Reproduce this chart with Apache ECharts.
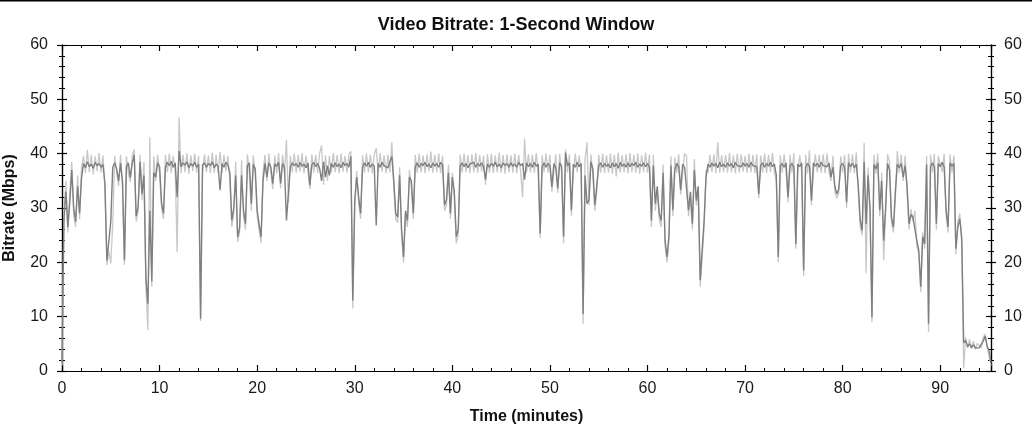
<!DOCTYPE html>
<html>
<head>
<meta charset="utf-8">
<script src="https://cdn.jsdelivr.net/npm/echarts@6/dist/echarts.min.js"></script>
<style>html,body{margin:0;padding:0;background:#fff;}#chart{width:1032px;height:436px;}</style>
</head>
<body>
<div id="chart"></div>
<script>
// Time step between samples (minutes)
const STEP = 0.2;
const xTicks = [0, 10, 20, 30, 40, 50, 60, 70, 80, 90];
const yTicks = [0, 10, 20, 30, 40, 50, 60];

// Main (dark) bitrate trace, Mbps, one value per STEP minutes starting at 0
const bitrate = [
1.5,28,33,26.5,31,37,30,27.5,34,29,
35.5,38.2,37.4,38.5,37.6,38.1,37.3,38.4,37.8,38.2,
37.5,38.0,34.5,20.3,20.6,27.5,37.5,38.3,37.2,35,
38.2,34.8,20.4,37.6,38.3,35.6,38.2,39.8,28.5,30.2,
38.5,32.6,36,16.9,12.4,29.5,16.5,36.5,35.7,38.3,
37.6,31,29,37.5,38.4,37.8,38.6,37.5,38.3,32,
40.5,37.6,38.3,37.9,38.5,37.4,38.2,37.7,38.4,37.5,
38.1,9.6,37.9,38.3,37.5,38.2,37.8,38.5,37.4,38.1,
37.6,33.3,38.2,37.5,38.4,37.9,36.5,27.7,30,36,
24.7,26.4,36,29.6,27.1,37.8,38.3,30.8,38,37.2,
29.6,27,24.7,35,38.2,35.7,38.3,37.6,34.5,38.1,
37.7,38.4,34.5,38.2,37.4,27.7,32.6,37.6,38.3,37.8,
38.2,37.5,38.4,37.7,38.1,37.4,38.3,34.2,37.9,38.4,
37.6,38.2,37.3,35,38.5,35.7,37.8,36,38.2,37.5,
38.3,37.6,38.1,37.4,38.4,37.8,38.2,37.5,39.5,13,
31.4,35.7,32,29,37.5,38.3,37.7,38.4,37.5,38.1,
37.7,26.8,38.2,37.5,38.4,37.8,38.1,37.4,38.5,39.5,
35,29,28.3,36,26,21,29.5,27.7,35.7,35,
29,37.6,38.3,37.5,38.2,37.8,38.4,37.6,38.1,37.4,
38.3,37.7,38.2,37.5,38.4,37.9,30.5,31.5,36.5,29,
35.7,33,24.7,26,37.8,38.3,37.6,38.2,37.4,38.1,
37.8,38.4,37.5,38.2,37.7,38.3,37.6,35.2,38.1,37.5,
38.2,37.7,38.4,37.6,38.1,37.4,38.3,37.8,38.2,37.5,
38.3,37.7,38.1,37.5,38.4,37.8,38.2,35.2,38.3,37.6,
38.2,37.5,38.4,37.7,38.1,25.3,37.6,38.3,37.5,38.2,
37.7,33.9,38.2,37.4,33.6,38.3,37.6,24.7,40.2,37.8,
38.3,29.6,38.1,37.5,38.4,37.6,38.2,10.5,36,30.8,
31.4,38.5,37.2,30.5,34,37.8,38.3,37.5,38.2,37.7,
38.1,37.4,38.3,37.6,38.2,37.3,38.4,37.7,38.1,37.5,
38.3,37.6,38.2,37.8,38.4,37.5,38.1,37.7,38.3,37.6,
38.2,37.5,27.7,37.8,30.8,34,29,27.7,36.5,24,
21,25,37.8,29.6,37,38.2,37.6,33.3,38.1,37.5,
37.8,29.6,33,27.1,37,31.4,34,16.7,22.2,27.7,
35.7,38.1,37.5,38.3,37.7,38.2,37.4,38.4,37.6,38.1,
37.5,38.3,37.7,38.2,37.4,38.4,37.8,38.1,37.6,38.3,
37.7,38.2,37.5,38.4,37.8,38.1,37.6,32.6,37.8,38.3,
37.5,38.2,37.7,38.4,37.6,38.1,36,21,37.8,38.2,
37.5,38.3,32,37.7,38.2,37.4,23.4,38.1,37.6,38.3,
18.5,37.5,38.2,37.6,31.4,38.3,37.7,38.2,37.5,38.4,
37.8,38.1,37.6,38.3,35.7,37.5,34,32.6,33.5,37.8,
38.2,37.5,31,38.3,37.6,38.2,37.4,38.1,34,27.7,
25.9,38.5,27,36,30,9.9,38,37.2,38.3,29.6,
35,24,30,38.2,37,28.3,26.5,33,38.1,37.4,
38.2,35.7,37.8,34,27.1,28.8,28.3,28.6,24,22.2,
15.5,24.7,23.4,38,8.7,37.6,38.3,37.5,27.1,38.2,
37.6,38.4,37.5,29.6,26.5,38.3,37.7,38.2,22.5,26.5,
28,24.5,5.2,5.6,4.5,5.0,4.3,4.8,4.2,4.4,
4.3,4.5,5.5,6.4,4.6,3.8,1.5
];

// Raw (light) trace, same sampling
const bitrateRaw = [
1,29,35,25.5,33,38.5,28.5,26.5,36,28,
37.5,39.6,36.4,40.7,36.6,39.8,36.2,39.5,36.8,40.1,
36.5,39.7,33.5,19.5,22,19.8,27,39.6,36.5,34,
39.8,34,19.5,39.5,36.4,34.8,39.7,40.8,27.5,29.5,
39.8,31.5,38.5,15.5,7.5,43,15.5,39.5,35,39.8,
36.5,30,28,39.8,36.6,40,36.5,39.6,36.8,21.9,
46.7,36.4,39.8,36.6,40.1,36.3,39.7,36.8,40,36.5,
39.6,9.2,36.5,39.9,36.6,39.7,36.4,40.2,36.5,39.8,
36.5,40.3,36.4,39.8,36.8,39.6,35,26.5,29,38.5,
23.8,25.5,38.8,28.5,26,39.9,36.5,29.5,39.7,36.5,
28.5,26,23.5,36.5,39.8,35,40,36.5,33.5,39.7,
36.4,40.1,33.6,39.8,36.5,42.5,31,39.6,36.6,40,
36.5,39.8,36.7,40.1,36.4,39.6,36.8,33.5,39.9,36.5,
39.8,36.5,40,41.5,34.3,39.7,35,39.6,36.5,40.1,
36.6,39.8,36.4,40,36.7,39.6,36.5,39.9,40.4,11.5,
30.5,36.8,31,28,39.7,36.5,40,36.6,39.8,36.4,
39.9,41,36.5,40.1,36.7,39.7,36.4,39.8,36.6,42.1,
34,28,27.3,37.5,25,20,28.5,26.5,37,34,
28,39.8,36.5,40,36.6,39.7,36.4,39.9,36.8,40.4,
36.5,39.8,36.6,40,36.4,39.6,29.5,30.5,38,28,
36.5,32,23.5,25,39.8,36.5,40,36.6,39.7,36.4,
39.9,36.6,40.1,36.5,39.8,36.7,39.6,34.3,39.9,36.5,
40,36.4,39.7,36.6,40.2,36.5,39.8,36.3,39.9,36.6,
39.7,36.5,40,36.4,39.8,36.6,32,42.8,36.5,39.9,
36.6,39.8,36.5,40.1,36.4,24.5,39.7,36.6,40,36.5,
39.8,33,36.5,39.9,32.8,40,36.4,23.5,40.8,36.5,
39.9,28.6,36.5,40,36.6,39.7,36.4,8.7,39,42.1,
30.5,39.9,36.2,29.5,33,39.8,36.5,40,36.4,39.7,
36.5,40,36.3,39.8,35.8,40.2,36.5,39.7,36.6,39.9,
36.4,40.1,36.6,39.8,36.5,40,36.3,39.7,36.6,40.2,
36.5,39.9,26.5,39.8,29.5,33,28,26.5,38,23,
20,24,39.5,28.5,39.3,36.5,39.9,32.5,36.6,40,
39.6,28.5,32,26,39,30.5,33,15.5,21,26.5,
37,36.5,39.8,36.6,39.9,36.4,42.1,36.5,39.7,36.6,
39.8,36.5,40.1,36.6,39.7,36.4,40,36.5,39.9,36.7,
39.6,36.5,40,36.6,39.8,36.4,39.9,31.8,39.7,36.5,
40,36.4,39.8,36.6,40.1,36.5,35,20,39.7,36.5,
39.9,36.6,31,39.8,36.5,40.1,22.5,36.4,39.7,36.6,
17.5,39.8,36.4,40.6,30.5,36.5,39.9,36.6,39.8,36.5,
39.9,36.4,40,36.6,35,39.6,33,31.8,32.8,39.5,
36.5,39.8,30,40,36.5,39.9,36.4,40.2,33,26.5,
25,42,18,37.5,29,9,39.8,36.3,40,28.5,
36.5,20.4,29,39.9,38.5,27.3,25.5,32,40.5,36.5,
39.8,35,39.6,33,26,29.8,27.5,29.5,23,21.5,
14.5,25.5,22.5,39.6,7.2,39.8,36.6,40,26,39.6,
39.8,36.6,40,28.5,25.5,39.9,36.5,39.7,21.5,27.5,
29,23.5,0.5,6.2,4.2,5.8,4.1,5.5,4.0,5.1,
5.0,4.2,6.2,6.8,4.4,4.2,1
];

const toPairs = arr => arr.map((v, i) => [+(i * STEP).toFixed(2), v]);
const X_MAX = +((bitrate.length - 1) * STEP).toFixed(2);

const chart = echarts.init(document.getElementById('chart'), null, {renderer: 'canvas'});
const FONT = 'Liberation Sans, Arial, sans-serif';
const lineStyle = {color: '#000', width: 1.2};
const labelStyle = {color: '#1a1a1a', fontSize: 16, fontFamily: FONT};
const nameStyle = {fontSize: 16, fontWeight: 'bold', color: '#111', fontFamily: FONT};

function yAx(pos, inside, showLabel) {
  return {
    type: 'value', position: pos, min: 0, max: 60, interval: 10,
    axisLine: {show: true, lineStyle: lineStyle},
    axisTick: {show: true, inside: inside, length: 5, lineStyle: {color: '#000', width: 1.2}},
    minorTick: {show: true, splitNumber: 5, length: 3, lineStyle: {color: '#000', width: 1}},
    splitLine: {show: false},
    axisLabel: {show: showLabel, margin: pos === 'left' ? 14 : 13, ...labelStyle,
      formatter: v => yTicks.includes(v) ? String(v) : ''}
  };
}
function xAx(pos, showLabel) {
  return {
    type: 'value', position: pos, min: 0, max: X_MAX, interval: 10,
    axisLine: {show: true, onZero: false, lineStyle: lineStyle},
    axisTick: {show: true, inside: true, length: 6, lineStyle: {color: '#000', width: 1.2}},
    minorTick: {show: true, splitNumber: 5, length: 3, lineStyle: {color: '#000', width: 1}},
    splitLine: {show: false},
    axisLabel: {show: showLabel, margin: 10, ...labelStyle, showMaxLabel: false,
      formatter: v => xTicks.includes(v) ? String(v) : ''},
    name: showLabel ? 'Time (minutes)' : '',
    nameLocation: 'middle', nameGap: 38,
    nameTextStyle: nameStyle
  };
}

const yLeft = yAx('left', false, true);
yLeft.name = 'Bitrate (Mbps)';
yLeft.nameLocation = 'middle';
yLeft.nameGap = 44;
yLeft.nameTextStyle = nameStyle;

chart.setOption({
  animation: false,
  backgroundColor: '#fff',
  title: {
    text: 'Video Bitrate: 1-Second Window', left: 'center', top: 11,
    textStyle: {fontSize: 18, fontWeight: 'bold', color: '#111', fontFamily: FONT}
  },
  graphic: [{type: 'rect', shape: {x: 0, y: 0, width: 1032, height: 1.5}, style: {fill: '#000'}}],
  grid: {left: 62, right: 41, top: 45, bottom: 65, containLabel: false, outerBoundsMode: 'none'},
  xAxis: [xAx('bottom', true), xAx('top', false)],
  yAxis: [yLeft, yAx('left', true, false), yAx('right', false, true), yAx('right', true, false)],
  series: [
    {type: 'line', name: 'raw', data: toPairs(bitrateRaw), showSymbol: false, symbol: 'none',
     sampling: null, lineStyle: {color: '#c8c8c8', width: 1.3}, z: 1},
    {type: 'line', name: 'bitrate', data: toPairs(bitrate), showSymbol: false, symbol: 'none',
     sampling: null, lineStyle: {color: '#7f7f7f', width: 1.4}, z: 2}
  ]
});
</script>
</body>
</html>
